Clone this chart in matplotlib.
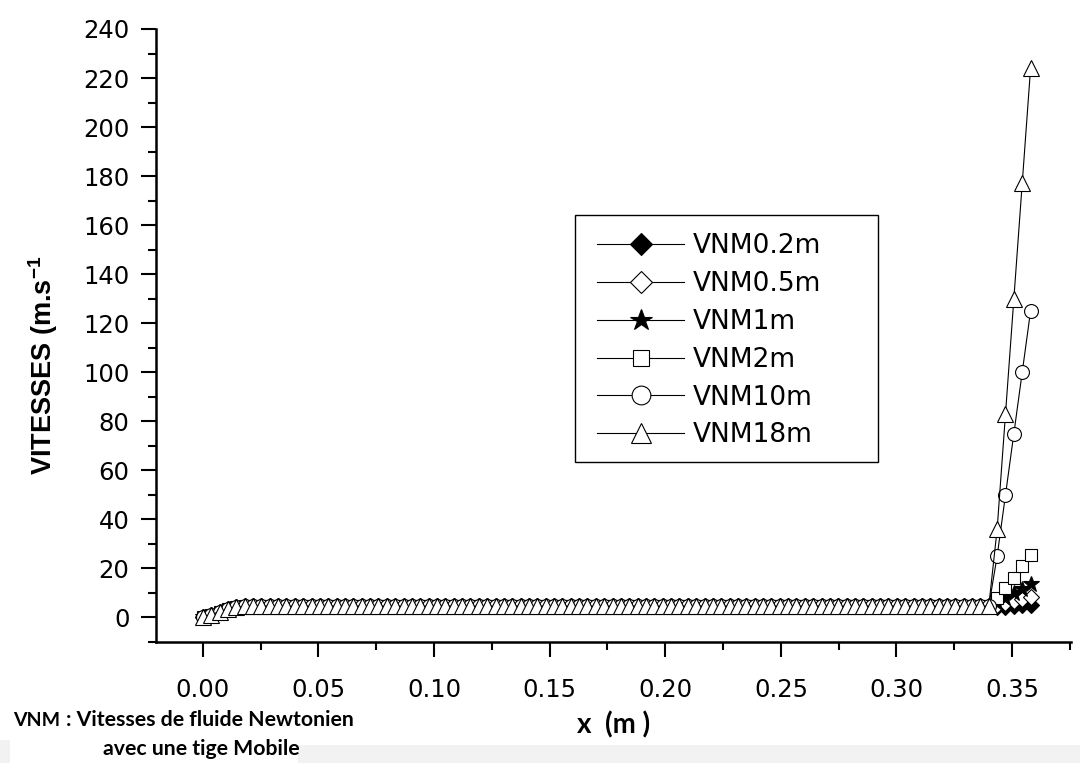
import numpy as np
import matplotlib
matplotlib.use("Agg")
import matplotlib.pyplot as plt
from matplotlib.ticker import MultipleLocator
from matplotlib.patches import Rectangle

plt.rcParams["mathtext.fontset"] = "custom"
plt.rcParams["mathtext.rm"] = "Liberation Sans:bold"
plt.rcParams["mathtext.it"] = "Liberation Sans:bold"
plt.rcParams["mathtext.bf"] = "Liberation Sans:bold"

# Sampling grid along the rod (100 evenly spaced stations)
x = np.linspace(0.0, 0.358, 100)

# Shared profile: short ramp near x=0 then a flat plateau
ramp = [0.0, 1.2, 2.4, 3.4, 4.1, 4.5]
plateau = [4.6] * 89

# Last five stations, one list per case
tail_02 = [4.2, 4.4, 4.6, 4.9, 5.2]
tail_05 = [5.0, 5.8, 6.6, 7.4, 8.2]
tail_1 = [6.0, 8.0, 10.0, 11.5, 13.5]
tail_2 = [8.1, 12.2, 16.3, 20.8, 25.3]
tail_10 = [25.0, 50.0, 75.0, 100.0, 125.0]
tail_18 = [36.0, 83.0, 130.0, 177.0, 224.0]

labels = ["VNM0.2m", "VNM0.5m", "VNM1m", "VNM2m", "VNM10m", "VNM18m"]
tails = [tail_02, tail_05, tail_1, tail_2, tail_10, tail_18]

# marker, face colour, size
styles = [
    ("D", "black", 8),
    ("D", "white", 8),
    ("*", "black", 12),
    ("s", "white", 9),
    ("o", "white", 10),
    ("^", "white", 11),
]

fig = plt.figure(figsize=(10.8, 7.63), dpi=100)
ax = fig.add_axes([0.1444, 0.1586, 0.8473, 0.8034])

for lab, tail, (mk, fc, ms) in zip(labels, tails, styles):
    y = ramp + plateau + tail
    ax.plot(x, y, color="black", linewidth=0.8, marker=mk, markersize=ms,
            markerfacecolor=fc, markeredgecolor="black", markeredgewidth=0.8,
            label=lab)

ax.set_xlim(-0.0203, 0.3755)
ax.set_ylim(-10, 240)

ax.xaxis.set_major_locator(MultipleLocator(0.05))
ax.xaxis.set_minor_locator(MultipleLocator(0.025))
ax.yaxis.set_major_locator(MultipleLocator(20))
ax.yaxis.set_minor_locator(MultipleLocator(10))
ax.xaxis.set_major_formatter(plt.FuncFormatter(lambda v, p: f"{v:.2f}"))

ax.spines["top"].set_visible(False)
ax.spines["right"].set_visible(False)
ax.spines["left"].set_linewidth(1.8)
ax.spines["bottom"].set_linewidth(1.8)
ax.tick_params(which="major", length=11, width=1.5, direction="out",
               labelsize=17.5, pad=8)
ax.tick_params(axis="x", which="major", pad=15)
ax.tick_params(which="minor", length=6, width=1.5, direction="out")

ax.set_ylabel("VITESSES (m.s$^{-1}$", fontsize=19.5, fontweight="bold",
              family="Liberation Sans")
ax.yaxis.set_label_coords(-0.105, 0.452)

# legend box drawn separately (wide right margin as in the original)
ax.add_patch(Rectangle((0.458, 0.2936), 0.331, 0.403, transform=ax.transAxes,
                       fill=False, edgecolor="black", linewidth=1.0, zorder=5))
leg = ax.legend(loc="upper left", bbox_to_anchor=(0.4824, 0.667),
                borderaxespad=0, frameon=False, fontsize=19, handlelength=3.3,
                labelspacing=0.45, borderpad=0, handletextpad=0.3,
                markerscale=1.35)

fig.text(614 / 1080, 1 - 725 / 763, "x  (m )", ha="center", va="center",
         fontsize=20, fontweight="bold", family="Lato")
fig.text(13 / 1080, 1 - 720 / 763, "VNM", ha="left", va="center",
         fontsize=14, fontweight="bold", family="Lato")
fig.text(66 / 1080, 1 - 720 / 763, ": Vitesses de fluide Newtonien", ha="left",
         va="center", fontsize=15.3, fontweight="bold", family="Lato")
fig.text(103 / 1080, 1 - 749 / 763, "avec une tige Mobile", ha="left",
         va="center", fontsize=15.3, fontweight="bold", family="Lato")

# light grey strips left by the original screenshot
fig.patches.append(Rectangle((298 / 1080, 0), 1, 18 / 763, transform=fig.transFigure,
                             facecolor="#f2f2f2", edgecolor="none", zorder=-1))
fig.patches.append(Rectangle((0, 0), 10 / 1080, 23 / 763, transform=fig.transFigure,
                             facecolor="#f2f2f2", edgecolor="none", zorder=-1))

fig.savefig("out.png", dpi=100)
